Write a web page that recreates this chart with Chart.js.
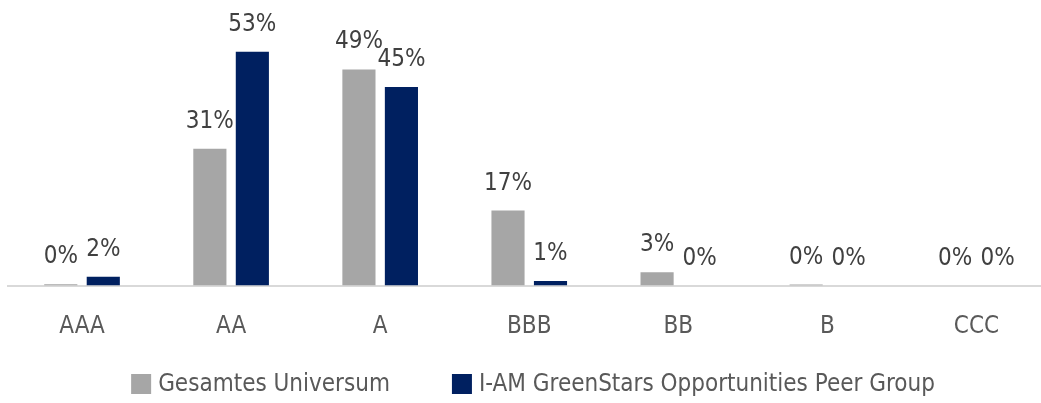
<!DOCTYPE html>
<html>
<head>
<meta charset="utf-8">
<script src="https://cdn.jsdelivr.net/npm/chart.js@4"></script>
<style>
  html, body { margin: 0; padding: 0; background: #fff; overflow: hidden; }
  #wrap { width: 1051px; height: 403px; position: relative; }
</style>
</head>
<body>
<div id="wrap"><canvas id="chart"></canvas></div>
<script>
// Rating distribution, values in percent
const ratings = ['AAA', 'AA', 'A', 'BBB', 'BB', 'B', 'CCC'];
const universum = [0.3, 31, 49, 17, 3, 0.2, 0];
const peerGroup = [2, 53, 45, 1, 0, 0, 0];
const seriesNames = ['Gesamtes Universum', 'I-AM GreenStars Opportunities Peer Group'];
const seriesColors = ['#a6a6a6', '#002060'];

const FONT = "'Liberation Sans Narrow', 'DejaVu Sans Condensed', sans-serif";

// draws the "xx%" text above each bar
const valueLabels = {
    id: 'valueLabels',
    afterDatasetsDraw(chart) {
        const ctx = chart.ctx;
        ctx.save();
        ctx.font = '24px ' + FONT;
        ctx.fillStyle = '#404040';
        ctx.textAlign = 'center';
        ctx.textBaseline = 'alphabetic';
        chart.data.datasets.forEach((ds, i) => {
            const meta = chart.getDatasetMeta(i);
            meta.data.forEach((bar, j) => {
                ctx.fillText(Math.round(ds.data[j]) + '%', bar.x, bar.y - 21);
            });
        });
        ctx.restore();
    }
};

// simple legend row at the bottom (built-in one can't do the wide item gap)
const bottomLegend = {
    id: 'bottomLegend',
    afterDraw(chart) {
        const ctx = chart.ctx;
        const box = 20, boxGap = 7, itemGap = 62;
        ctx.save();
        ctx.font = '24px ' + FONT;
        const widths = chart.data.datasets.map(ds => ctx.measureText(ds.label).width);
        let total = 0;
        widths.forEach((w, i) => { total += box + boxGap + w + (i ? itemGap : 0); });
        let x = 533 - total / 2;
        const y = 385;
        ctx.textBaseline = 'middle';
        ctx.textAlign = 'left';
        chart.data.datasets.forEach((ds, i) => {
            ctx.fillStyle = ds.backgroundColor;
            ctx.fillRect(x, y - box / 2 - 1, box, box);
            x += box + boxGap;
            ctx.fillStyle = '#595959';
            ctx.fillText(ds.label, x, y);
            x += widths[i] + itemGap;
        });
        ctx.restore();
    }
};

new Chart(document.getElementById('chart'), {
    type: 'bar',
    data: {
        labels: ratings,
        datasets: [
            { label: seriesNames[0], data: universum, backgroundColor: seriesColors[0] },
            { label: seriesNames[1], data: peerGroup, backgroundColor: seriesColors[1] }
        ]
    },
    options: {
        responsive: true,
        maintainAspectRatio: false,
        animation: false,
        categoryPercentage: 0.57,
        barPercentage: 0.78,
        layout: { padding: { left: 7.5, right: 0, top: 0, bottom: 43.7 } },
        scales: {
            x: {
                grid: { display: false },
                border: { display: true, color: '#d9d9d9', width: 2 },
                ticks: { color: '#595959', font: { family: FONT, size: 24 }, padding: 18.5 }
            },
            y: { display: false, min: 0, max: 64.75 }
        },
        plugins: {
            tooltip: { enabled: false },
            legend: { display: false }
        }
    },
    plugins: [valueLabels, bottomLegend]
});
</script>
</body>
</html>
